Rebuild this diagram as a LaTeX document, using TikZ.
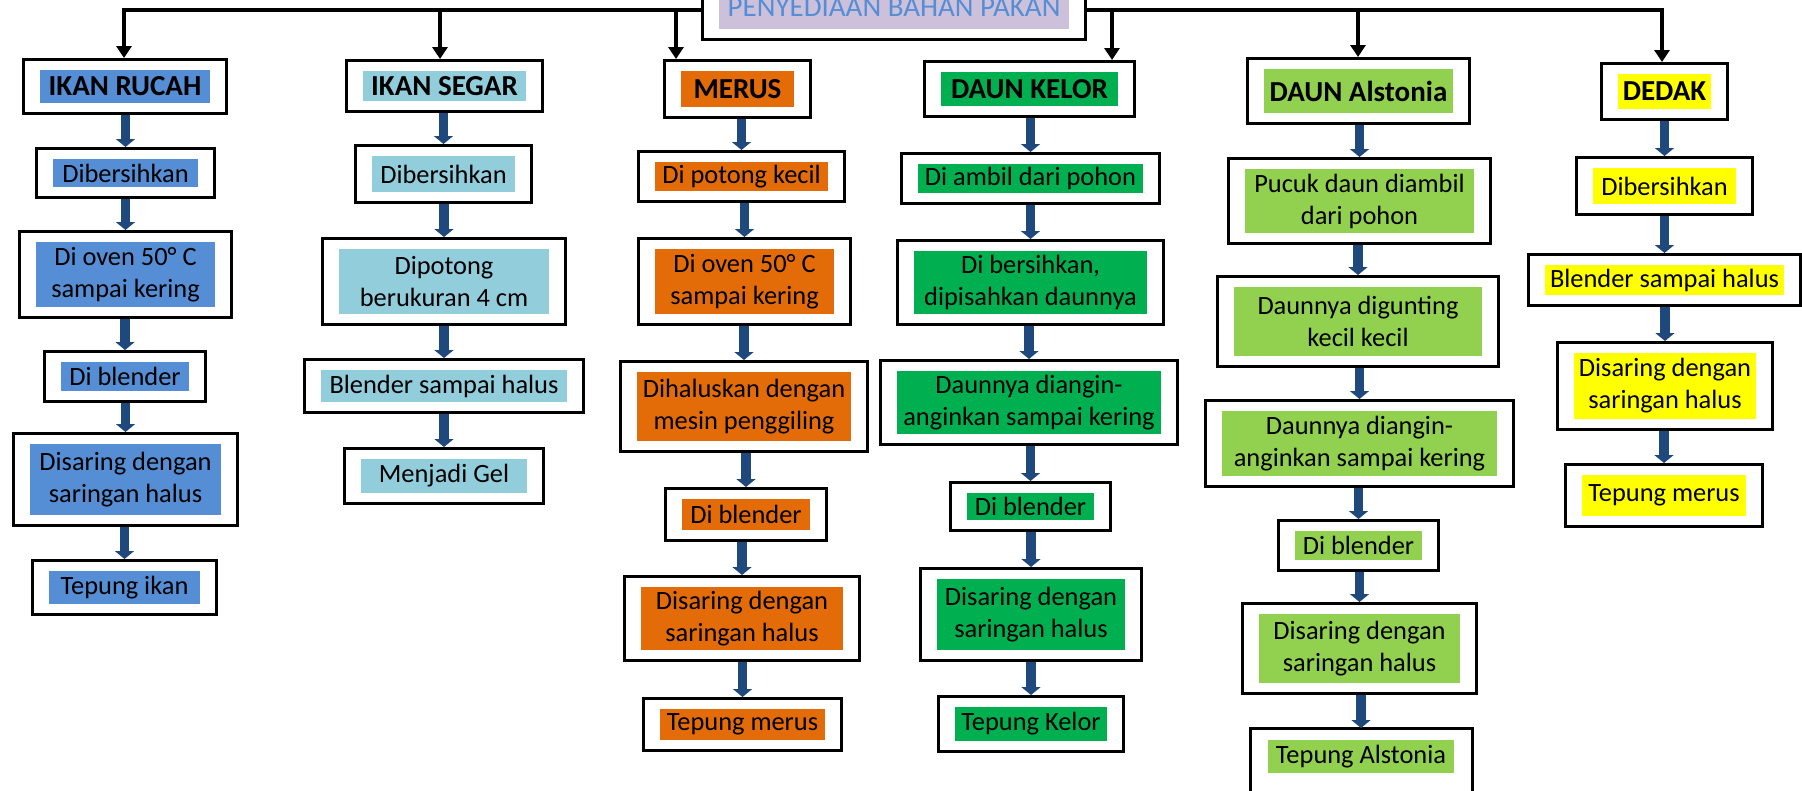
\documentclass[tikz,border=0pt]{standalone}
\usepackage{fontspec}
\setmainfont{Carlito}
\usetikzlibrary{arrows.meta}

\definecolor{biruikan}{HTML}{558ED5}
\definecolor{birumuda}{HTML}{92CDDC}
\definecolor{oranye}{HTML}{E36C09}
\definecolor{hijau}{HTML}{00B050}
\definecolor{hijaumuda}{HTML}{92D050}
\definecolor{kuning}{HTML}{FFFF00}
\definecolor{judulisi}{HTML}{CCC0DA}
\definecolor{judulteks}{HTML}{558ED5}
\definecolor{panah}{HTML}{1F497D}

\begin{document}
\begin{tikzpicture}[
        x=1pt, y=-1pt,
        langkah/.style={draw=black, line width=3pt, fill=white, align=center, inner sep=0pt,
            path picture={\fill[fill=#1] ([xshift=16.5pt,yshift=-10.5pt]path picture bounding box.north west)
                rectangle ([xshift=-16.5pt,yshift=10.5pt]path picture bounding box.south east);}},
        ukuran/.style 2 args={minimum width=#1-3, minimum height=#2-3},
        isi/.style={font=\fontsize{26.4}{32}\selectfont},
        kepala/.style={font=\fontsize{29}{35}\selectfont\bfseries},
        judulfont/.style={font=\fontsize{29}{35}\selectfont, text=judulteks},
        bingkai/.style={draw=black, line width=3pt},
        panahbiru/.style={draw=panah, line width=9.3pt, -{Triangle[width=19pt,length=8pt]}},
        panahhitam/.style={draw=black, line width=4pt, -{Triangle[width=15pt,length=12pt]}}
    ]
        \useasboundingbox (0,0) rectangle (1802,790);
        \fill[white] (0,0) rectangle (1802,790);

        % judul di atas
        \node[langkah=judulisi, judulfont, ukuran={386}{68}] (judul) at (894,7) {PENYEDIAAN BAHAN PAKAN};

        % titik percabangan garis atas
        \coordinate (bus-1) at (124,10);
        \coordinate (bus-2) at (440,10);
        \coordinate (bus-3) at (676,10);
        \coordinate (bus-4) at (1112,10);
        \coordinate (bus-5) at (1358,10);
        \coordinate (bus-6) at (1662,10);

        % IKAN RUCAH
        \node[langkah=biruikan, kepala, ukuran={206}{57}] (rucah-1) at (125,86.5) {IKAN RUCAH};
        \node[langkah=biruikan, isi, ukuran={181}{52}] (rucah-2) at (125.5,173) {Dibersihkan};
        \node[langkah=biruikan, isi, ukuran={215}{89}] (rucah-3) at (125.5,274.5) {Di oven 50° C\\sampai kering};
        \node[langkah=biruikan, isi, ukuran={164}{53}] (rucah-4) at (125,376.5) {Di blender};
        \node[langkah=biruikan, isi, ukuran={227}{95}] (rucah-5) at (125.5,479.5) {Disaring dengan\\saringan halus};
        \node[langkah=biruikan, isi, ukuran={187}{57}] (rucah-6) at (124.5,587.5) {Tepung ikan};

        % IKAN SEGAR
        \node[langkah=birumuda, kepala, ukuran={199}{54}] (segar-1) at (444.5,86) {IKAN SEGAR};
        \node[langkah=birumuda, isi, ukuran={179}{60}] (segar-2) at (443.5,174) {Dibersihkan};
        \node[langkah=birumuda, isi, ukuran={246}{89}] (segar-3) at (444,281.5) {Dipotong\\berukuran 4 cm};
        \node[langkah=birumuda, isi, ukuran={282}{56}] (segar-4) at (444,386) {Blender sampai halus};
        \node[langkah=birumuda, isi, ukuran={202}{58}] (segar-5) at (444,476) {Menjadi Gel};

        % MERUS
        \node[langkah=oranye, kepala, ukuran={149}{60}] (merus-1) at (737.5,89) {MERUS};
        \node[langkah=oranye, isi, ukuran={209}{53}] (merus-2) at (741.5,176.5) {Di potong kecil};
        \node[langkah=oranye, isi, ukuran={215}{89}] (merus-3) at (744.5,281.5) {Di oven 50° C\\sampai kering};
        \node[langkah=oranye, isi, ukuran={250}{93}] (merus-4) at (744,406.5) {Dihaluskan dengan\\mesin penggiling};
        \node[langkah=oranye, isi, ukuran={164}{55}] (merus-5) at (746,514.5) {Di blender};
        \node[langkah=oranye, isi, ukuran={238}{87}] (merus-6) at (742,618.5) {Disaring dengan\\saringan halus};
        \node[langkah=oranye, isi, ukuran={201}{55}] (merus-7) at (742.5,724.5) {Tepung merus};

        % DAUN KELOR
        \node[langkah=hijau, kepala, ukuran={213}{58}] (kelor-1) at (1029.5,89) {DAUN KELOR};
        \node[langkah=hijau, isi, ukuran={261}{53}] (kelor-2) at (1030.5,178.5) {Di ambil dari pohon};
        \node[langkah=hijau, isi, ukuran={269}{87}] (kelor-3) at (1030.5,282.5) {Di bersihkan,\\dipisahkan daunnya};
        \node[langkah=hijau, isi, ukuran={300}{87}] (kelor-4) at (1029,402.5) {Daunnya diangin-\\anginkan sampai kering};
        \node[langkah=hijau, isi, ukuran={163}{51}] (kelor-5) at (1030.5,506.5) {Di blender};
        \node[langkah=hijau, isi, ukuran={224}{95}] (kelor-6) at (1031,614.5) {Disaring dengan\\saringan halus};
        \node[langkah=hijau, isi, ukuran={188}{58}] (kelor-7) at (1031,724) {Tepung Kelor};

        % DAUN Alstonia
        \node[langkah=hijaumuda, kepala, ukuran={225}{68}] (alstonia-1) at (1358.5,91) {DAUN Alstonia};
        \node[langkah=hijaumuda, isi, ukuran={265}{88}] (alstonia-2) at (1359.5,201) {Pucuk daun diambil\\dari pohon};
        \node[langkah=hijaumuda, isi, ukuran={284}{93}] (alstonia-3) at (1358,321.5) {Daunnya digunting\\kecil kecil};
        \node[langkah=hijaumuda, isi, ukuran={311}{89}] (alstonia-4) at (1359.5,443.5) {Daunnya diangin-\\anginkan sampai kering};
        \node[langkah=hijaumuda, isi, ukuran={163}{53}] (alstonia-5) at (1358.5,545.5) {Di blender};
        \node[langkah=hijaumuda, isi, ukuran={237}{93}] (alstonia-6) at (1359.5,648.5) {Disaring dengan\\saringan halus};
        \node[langkah=hijaumuda, isi, draw=none, ukuran={222}{57}] (alstonia-7) at (1361,756.5) {Tepung Alstonia};
        \draw[bingkai] ([yshift=-20pt]alstonia-7.south west) |- (alstonia-7.north east) -- ([yshift=-20pt]alstonia-7.south east);

        % DEDAK
        \node[langkah=kuning, kepala, ukuran={129}{59}] (dedak-1) at (1664.5,91.5) {DEDAK};
        \node[langkah=kuning, isi, ukuran={179}{60}] (dedak-2) at (1664.5,186) {Dibersihkan};
        \node[langkah=kuning, isi, ukuran={275}{54}] (dedak-3) at (1664.5,280) {Blender sampai halus};
        \node[langkah=kuning, isi, ukuran={218}{90}] (dedak-4) at (1665,386) {Disaring dengan\\saringan halus};
        \node[langkah=kuning, isi, ukuran={200}{65}] (dedak-5) at (1664,495.5) {Tepung merus};

        % garis dari judul ke tiap kepala
        \draw[panahhitam] (judul.west |- bus-1) -| (bus-1 |- rucah-1.north);
        \draw[panahhitam] (bus-2) -- (bus-2 |- segar-1.north);
        \draw[panahhitam] (bus-3) -- (bus-3 |- merus-1.north);
        \draw[panahhitam] (bus-4) -- (bus-4 |- kelor-1.north);
        \draw[panahhitam] (bus-5) -- (bus-5 |- alstonia-1.north);
        \draw[panahhitam] (judul.east |- bus-6) -| (bus-6 |- dedak-1.north);

        % panah biru antar langkah
        \foreach \kol/\n in {rucah/6, segar/5, merus/7, kelor/7, alstonia/7, dedak/5}{
            \foreach \j in {2,...,\n}{
                \pgfmathtruncatemacro{\sebelum}{\j-1}
                \draw[panahbiru] (\kol-\sebelum.south -| \kol-\j.north) -- (\kol-\j.north);
            }
        }

    \end{tikzpicture}
\end{document}
